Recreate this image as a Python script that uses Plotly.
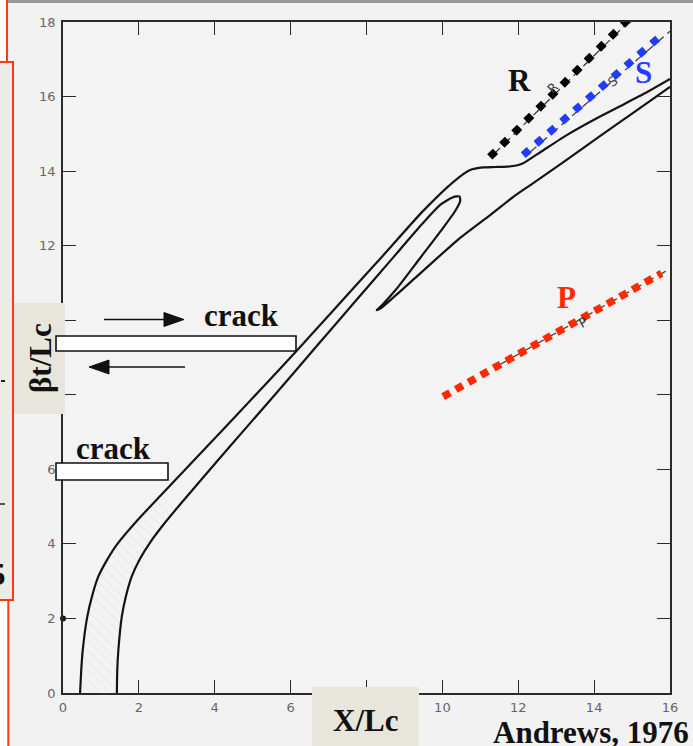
import plotly.graph_objects as go

# ---- data (x = X/Lc, y = beta t / Lc) ----
# trailing edge of the breakdown zone (upper-left contour)
x_trail = [0.45, 0.48, 0.52, 0.64, 0.78, 0.93, 1.15, 1.42, 1.95, 2.53, 3.74, 4.95, 6.16, 7.04,
           8.3, 9.5, 10.3, 10.73, 11.08, 11.4, 11.7, 11.95, 12.13, 12.6, 13.3, 14.07, 14.8, 15.4, 16.0]
y_trail = [0.0, 0.6, 1.15, 2.05, 2.65, 3.12, 3.55, 3.98, 4.62, 5.25, 6.55, 7.86, 9.18, 10.17,
           11.58, 12.94, 13.72, 14.03, 14.1, 14.11, 14.12, 14.15, 14.21, 14.52, 14.98, 15.42, 15.8, 16.12, 16.47]

# leading edge of the breakdown zone, folding back into the secondary rupture
x_lead = [1.42, 1.43, 1.46, 1.55, 1.66, 1.81, 2.03, 2.29, 2.65, 3.08, 4.3, 5.5, 6.7, 7.7,
          8.7, 9.5, 9.95, 10.28, 10.45, 10.47, 10.35, 10.0, 9.4, 8.8, 8.45, 8.3, 8.27, 8.36,
          9.3, 10.4, 11.3, 11.87, 12.31, 13.2, 14.07, 15.0, 16.0]
y_lead = [0.0, 0.6, 1.16, 2.05, 2.6, 3.12, 3.6, 4.03, 4.52, 5.05, 6.5, 7.9, 9.32, 10.5,
          11.68, 12.62, 13.1, 13.3, 13.32, 13.2, 12.95, 12.45, 11.65, 10.85, 10.45, 10.3, 10.27, 10.31,
          11.15, 12.15, 12.85, 13.31, 13.62, 14.25, 14.88, 15.54, 16.26]

# wave-speed reference lines (R, S, P)
x_R = [11.25, 15.02]
y_R = [14.38, 18.19]
x_S = [12.13, 15.78]
y_S = [14.43, 17.65]
x_P = [10.02, 15.78]
y_P = [7.95, 11.26]

# thin dashed guides printed under them
x_R_thin = [11.35, 15.1]
y_R_thin = [14.45, 18.2]
x_S_thin = [12.3, 16.0]
y_S_thin = [14.5, 17.75]
x_P_thin = [11.5, 16.0]
y_P_thin = [8.8, 11.38]

# point marked on the time axis
x_mark = [0.0]
y_mark = [2.0]

x_ticks = list(range(0, 17, 2))
y_ticks = list(range(0, 19, 2))

# ---- page geometry (pixels) ----
W, H = 693, 746
L, R, T, B = 63, 23, 22, 53
PW, PH = W - L - R, H - T - B


def fx(px):
    return (px - L) / PW


def fy(py):
    return (H - B - py) / PH


INK = "#141414"
SERIF = "Liberation Serif"

fig = go.Figure()

# hatched breakdown zone near the origin
n_h = 10
hx = x_trail[:n_h] + x_lead[:n_h][::-1]
hy = y_trail[:n_h] + y_lead[:n_h][::-1]
fig.add_trace(go.Scatter(
    x=hx, y=hy, mode="lines", line=dict(width=0), fill="toself",
    fillcolor="rgba(0,0,0,0)",
    fillpattern=dict(shape="\\", fgcolor="#d2d2d2", bgcolor="rgba(0,0,0,0)", size=7, solidity=0.12),
    hoverinfo="skip", showlegend=False))

for xs, ys in [(x_trail, y_trail), (x_lead, y_lead)]:
    fig.add_trace(go.Scatter(x=xs, y=ys, mode="lines",
                             line=dict(color=INK, width=2.2, shape="spline", smoothing=0.6),
                             hoverinfo="skip", showlegend=False))

for xs, ys in [(x_R_thin, y_R_thin), (x_S_thin, y_S_thin), (x_P_thin, y_P_thin)]:
    fig.add_trace(go.Scatter(x=xs, y=ys, mode="lines",
                             line=dict(color="#333333", width=1.2, dash="9px,5px"),
                             hoverinfo="skip", showlegend=False))

for xs, ys, col, dash in [(x_R, y_R, "#000000", "8px,9px"),
                          (x_S, y_S, "#1f3cff", "8px,9px"),
                          (x_P, y_P, "#ff2a00", "8px,6.5px")]:
    fig.add_trace(go.Scatter(x=xs, y=ys, mode="lines",
                             line=dict(color=col, width=7.5, dash=dash),
                             hoverinfo="skip", showlegend=False))

fig.add_trace(go.Scatter(x=x_mark, y=y_mark, mode="markers", cliponaxis=False,
                         marker=dict(color=INK, size=6), hoverinfo="skip", showlegend=False))

axis_common = dict(
    showgrid=False, zeroline=False, showline=True, linecolor="#2a2a2a", linewidth=1.5,
    mirror="ticks", ticks="inside", ticklen=13, tickwidth=1.3, tickcolor="#2a2a2a",
    tickfont=dict(family="DejaVu Sans", size=13, color="#666666"),
)
fig.update_xaxes(range=[0, 16], tickvals=x_ticks, ticktext=[str(v) for v in x_ticks],
                 ticklabelstandoff=2, **axis_common)
fig.update_yaxes(range=[0, 18], tickvals=y_ticks, ticktext=[str(v) for v in y_ticks],
                 ticklabelstandoff=3, **axis_common)

shapes = []


def rect(x0, y0, x1, y1, fill, line_color=None, lw=0):
    shapes.append(dict(type="rect", xref="paper", yref="paper",
                       x0=fx(x0), x1=fx(x1), y0=fy(y1), y1=fy(y0),
                       fillcolor=fill, line=dict(color=line_color or fill, width=lw),
                       layer="above"))


def seg(x0, y0, x1, y1, color, lw):
    shapes.append(dict(type="line", xref="paper", yref="paper",
                       x0=fx(x0), x1=fx(x1), y0=fy(y0), y1=fy(y1),
                       line=dict(color=color, width=lw), layer="above"))


def tri(pts, color):
    path = "M " + " L ".join(f"{fx(a):.5f},{fy(b):.5f}" for a, b in pts) + " Z"
    shapes.append(dict(type="path", xref="paper", yref="paper", path=path,
                       fillcolor=color, line=dict(color=color, width=1), layer="above"))


# page furniture
rect(0, 0, W, 3, "#9a9a9a")
rect(0, 0, 7, 62, "#ffffff")
rect(0, 600, 8, H, "#ffffff")
rect(-2, 62, 13, 600, "#ecebe5", "#ff3a10", 2)
seg(7, 0, 7, 62, "#ff3a10", 2)
seg(8.3, 600, 8.3, H, "#ff3a10", 2)
seg(1, 381, 5, 381, "#222222", 2)
seg(0, 504, 5, 504, "#222222", 1.5)

# axis title boxes
rect(14, 303, 65, 414, "#e8e6dc")
rect(312, 687, 419, H + 2, "#e8e6dc")

# crack sketches with slip arrows
rect(56, 336, 296, 351, "#ffffff", "#111111", 1.6)
rect(56, 463, 168, 480, "#ffffff", "#111111", 1.6)
seg(104, 319.5, 168, 319.5, "#111111", 1.6)
tri([(164, 312.5), (184, 319.5), (164, 326.5)], "#111111")
seg(108, 367, 185, 367, "#111111", 1.6)
tri([(109, 360), (89, 367), (109, 374)], "#111111")

annotations = []


def label(text, px, py, size=31, color="#111111", angle=0, bold=True, family=SERIF, xanchor="center"):
    annotations.append(dict(
        text=f"<b>{text}</b>" if bold else text, xref="paper", yref="paper",
        x=fx(px), y=fy(py), xanchor=xanchor, yanchor="middle", showarrow=False,
        textangle=angle, font=dict(family=family, size=size, color=color)))


label("crack", 241, 315)
label("crack", 113, 448)
label("βt/Lc", 41, 358, angle=-90)
label("X/Lc", 365, 720)
label("Andrews, 1976", 591, 732)
label("R", 519, 80)
label("S", 643, 73, color="#1f3cff")
label("P", 566, 297, color="#ff2a00")
label("5", 8, 574, xanchor="right")
# small letters printed on the original guide lines
label("R", 552, 88, size=13, color="#444444", angle=-45, bold=False, family="DejaVu Sans")
label("S", 613, 82, size=13, color="#444444", angle=-35, bold=False, family="DejaVu Sans")
label("P", 583, 322, size=13, color="#333333", angle=-28, bold=False, family="DejaVu Sans")

fig.update_layout(
    width=W, height=H, margin=dict(l=L, r=R, t=T, b=B),
    paper_bgcolor="#f2f2f2", plot_bgcolor="#f3f3f3",
    shapes=shapes, annotations=annotations, showlegend=False,
)

fig.write_html("out.html")
